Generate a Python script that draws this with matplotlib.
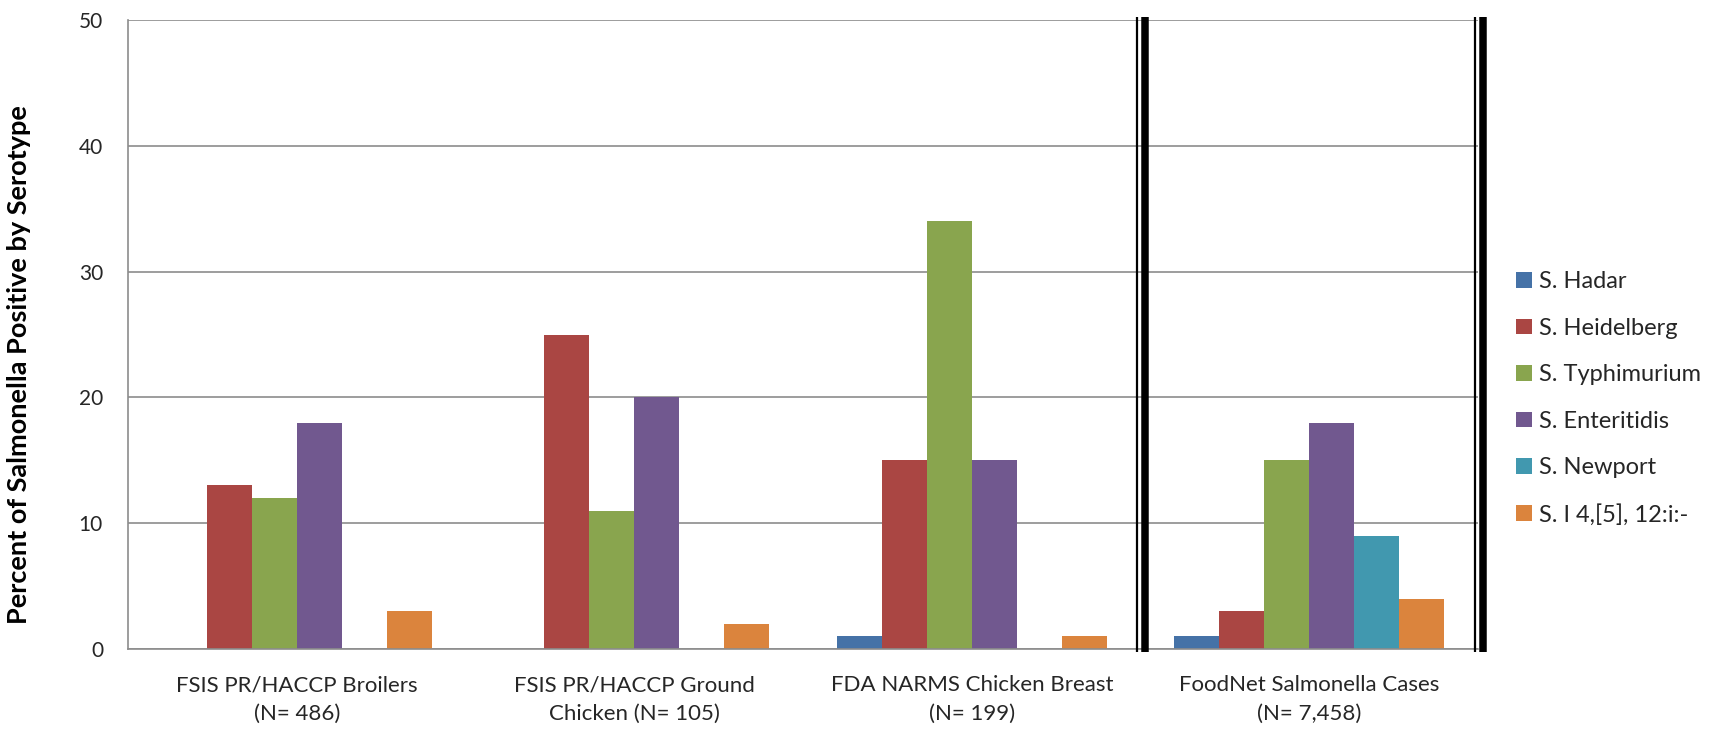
import matplotlib
matplotlib.use("Agg")
import matplotlib.pyplot as plt
import matplotlib.transforms as mtransforms
import numpy as np

plt.rcParams['font.family'] = ['Lato', 'DejaVu Sans']

categories = [
    "FSIS PR/HACCP Broilers\n(N= 486)",
    "FSIS PR/HACCP Ground\nChicken (N= 105)",
    "FDA NARMS Chicken Breast\n(N= 199)",
    "FoodNet Salmonella Cases\n(N= 7,458)",
]
serotypes = ["S. Hadar", "S. Heidelberg", "S. Typhimurium",
             "S. Enteritidis", "S. Newport", "S. I 4,[5], 12:i:-"]
hadar = [0, 0, 1, 1]
heidelberg = [13, 25, 15, 3]
typhimurium = [12, 11, 34, 15]
enteritidis = [18, 20, 15, 18]
newport = [0, 0, 0, 9]
i4512 = [3, 2, 1, 4]
series = [hadar, heidelberg, typhimurium, enteritidis, newport, i4512]
colors = ["#4572A7", "#AA4643", "#89A54E", "#71588F", "#4198AF", "#DB843D"]
yticks = [0, 10, 20, 30, 40, 50]

text_color = "#262626"
grid_color = "#8C8C8C"

fig = plt.figure(figsize=(17.19, 7.31), dpi=100)
ax = fig.add_axes([128 / 1719, 1 - 649 / 731, (1478 - 128) / 1719, (649 - 20) / 731])

x = np.arange(len(categories))
n = len(series)
width = 0.8 / n
for i, (vals, col, name) in enumerate(zip(series, colors, serotypes)):
    ax.bar(x - 0.4 + width * (i + 0.5), vals, width, color=col, label=name,
           zorder=3, linewidth=0)

ax.set_xlim(-0.5, len(categories) - 0.5)
ax.set_ylim(0, 50)
ax.set_yticks(yticks)
ax.set_xticks(x)
ax.set_xticklabels(categories, fontsize=16, color=text_color, linespacing=1.55)
ax.tick_params(axis='y', labelsize=15, length=0, pad=18, labelcolor=text_color)
ax.tick_params(axis='x', length=0, pad=19)
ax.yaxis.grid(True, color=grid_color, linewidth=1.2, zorder=0)
for side in ("top", "right"):
    ax.spines[side].set_visible(False)
for side in ("left", "bottom"):
    ax.spines[side].set_color(grid_color)
    ax.spines[side].set_linewidth(1.2)
    ax.spines[side].set_zorder(4)

ax.set_ylabel("Percent of Salmonella Positive by Serotype", fontsize=19.5,
              fontweight="bold", color="black")
ax.yaxis.set_label_coords(-0.0715, 0.4515)

# double separator lines between survey data and case data, and at the right edge
blend = mtransforms.blended_transform_factory(ax.transData, ax.transAxes)
for xb in (2.5, 3.5):
    thin = mtransforms.offset_copy(blend, fig=fig, x=-3.5, y=0, units='dots')
    thick = mtransforms.offset_copy(blend, fig=fig, x=4.5, y=0, units='dots')
    ax.plot([xb, xb], [-0.004, 1.005], transform=thin, color="black",
            linewidth=1.6, clip_on=False, zorder=5, solid_capstyle='butt')
    ax.plot([xb, xb], [-0.004, 1.005], transform=thick, color="black",
            linewidth=5.4, clip_on=False, zorder=5, solid_capstyle='butt')

leg = ax.legend(loc="upper left", bbox_to_anchor=(1.0215, 0.6155), frameon=False,
                fontsize=17, handlelength=0.66, handleheight=0.66,
                handletextpad=0.3, labelspacing=1.08, borderaxespad=0)
for t in leg.get_texts():
    t.set_color(text_color)

fig.savefig("out.png", dpi=100, facecolor="white")
